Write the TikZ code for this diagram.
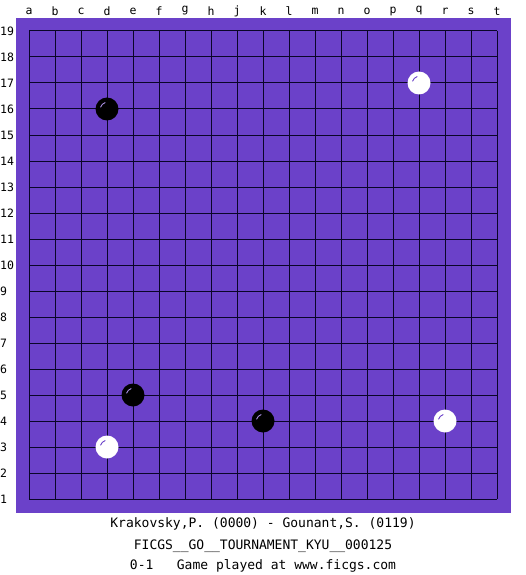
\documentclass[tikz,border=0pt]{standalone}
\usepackage{fontspec}
\setmonofont{DejaVu Sans Mono}
\definecolor{board}{RGB}{107,65,201}
\definecolor{gridc}{RGB}{10,5,40}
\begin{document}
\begin{tikzpicture}[x=1pt,y=-1pt,
  lbl/.style={font=\ttfamily\fontsize{11.5}{13}\selectfont,inner sep=0pt},
  info/.style={font=\ttfamily\fontsize{13}{15}\selectfont,inner sep=0pt},
  bstone/.style={circle,fill=black,minimum size=23pt,inner sep=0pt},
  wstone/.style={circle,fill=white,minimum size=23pt,inner sep=0pt},
  shine/.style={line width=0.9pt}]
\useasboundingbox (0,0) rectangle (525,575);
\fill[white] (0,0) rectangle (525,575);
\fill[board] (16,18) rectangle (511,513);
\foreach \i in {0,...,18}{
  \draw[gridc,line width=1pt] (29+26*\i,31) -- (29+26*\i,499);
  \draw[gridc,line width=1pt] (29,31+26*\i) -- (497,31+26*\i);
}
\foreach \l [count=\i from 0] in {a,b,c,d,e,f,g,h,j,k,l,m,n,o,p,q,r,s,t}{
  \node[lbl] (col\l) at (29+26*\i,11) {\l};
}
\foreach \r in {1,...,19}{
  \node[lbl,anchor=west] (row\r) at (0,31+26*19-26*\r) {\r};
}
% stones
\node[bstone] (d16) at (107,109) {};
\node[wstone] (q17) at (419,83) {};
\node[bstone] (e5) at (133,395) {};
\node[bstone] (k4) at (263,421) {};
\node[wstone] (d3) at (107,447) {};
\node[wstone] (r4) at (445,421) {};
\foreach \s/\c in {d16/board!60!white,e5/board!60!white,k4/board!60!white,q17/board,d3/board,r4/board}{
  \draw[shine,\c] ([shift={(1,1)}]\s.center) ++(200:8) arc (200:250:8);
}
\node[info] (t1) at (263,524) {Krakovsky,P. (0000) - Gounant,S. (0119)};
\node[info] (t2) at (263,546) {FICGS\_\_GO\_\_TOURNAMENT\_KYU\_\_000125};
\node[info] (t3) at (263,566) {0-1~~~Game played at www.ficgs.com};
\end{tikzpicture}
\end{document}
